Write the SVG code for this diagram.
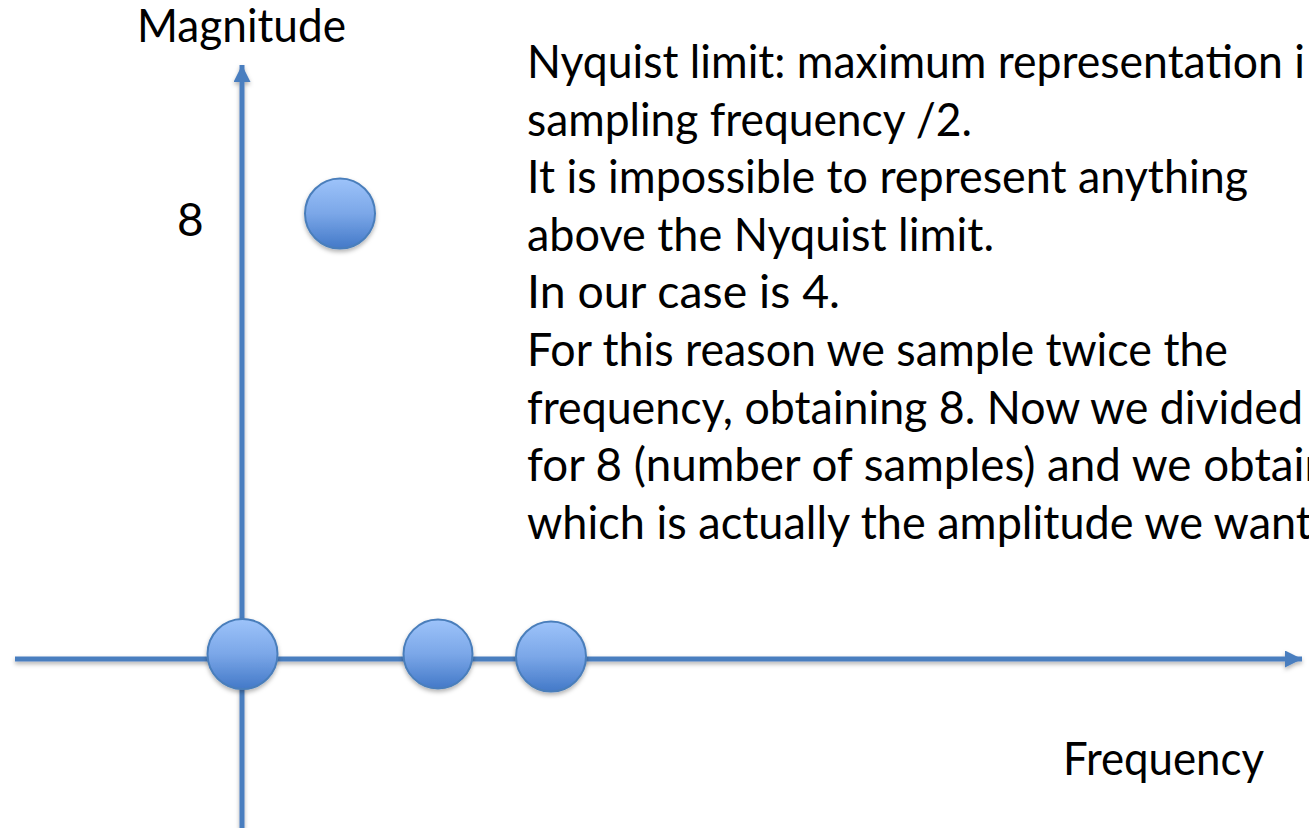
<svg xmlns="http://www.w3.org/2000/svg" width="1309" height="828" viewBox="0 0 1309 828">
  <style>
    .t { font-family: Lato, "Open Sans", "Liberation Sans", sans-serif; font-size: 46px; fill: #000; }
    .axis { stroke: #4A7EBF; stroke-width: 5; fill: none; }
    .dot { fill: url(#dotGrad); stroke: #4A7EBB; stroke-width: 2; }
  </style>
  <defs>
    <linearGradient id="dotGrad" x1="0" y1="0" x2="0" y2="1">
      <stop offset="0" stop-color="#9DC3FA"/>
      <stop offset="0.5" stop-color="#7BA7E8"/>
      <stop offset="1" stop-color="#4379C8"/>
    </linearGradient>
    <filter id="shadow" x="-20%" y="-20%" width="140%" height="150%">
      <feDropShadow dx="0" dy="2.5" stdDeviation="2" flood-color="#000" flood-opacity="0.3"/>
    </filter>
    <marker id="arrow" viewBox="0 0 10 10" refX="10" refY="5" markerWidth="3.4" markerHeight="3.4" orient="auto" markerUnits="strokeWidth">
      <path d="M0,0 L10,5 L0,10 Z" fill="#4A7EBF"/>
    </marker>
  </defs>

  <g id="connectors" filter="url(#shadow)">
    <line id="y-axis" class="axis" x1="242" y1="828" x2="242" y2="65" marker-end="url(#arrow)"/>
    <line id="x-axis" class="axis" x1="15" y1="659" x2="1302" y2="659" marker-end="url(#arrow)"/>
  </g>

  <g id="labels">
    <text id="lbl-magnitude" class="t" x="137" y="42" textLength="209" lengthAdjust="spacingAndGlyphs">Magnitude</text>
    <text id="lbl-8" class="t" x="177" y="236">8</text>
    <text id="lbl-frequency" class="t" x="1063" y="775" textLength="201" lengthAdjust="spacingAndGlyphs">Frequency</text>
  </g>

  <g id="note">
    <text class="t" x="527" y="78" textLength="778" lengthAdjust="spacingAndGlyphs">Nyquist limit: maximum representation i</text>
    <text class="t" x="527" y="135.6" textLength="445" lengthAdjust="spacingAndGlyphs">sampling frequency /2.</text>
    <text class="t" x="527" y="193.2" textLength="721" lengthAdjust="spacingAndGlyphs">It is impossible to represent anything</text>
    <text class="t" x="527" y="250.8" textLength="467" lengthAdjust="spacingAndGlyphs">above the Nyquist limit.</text>
    <text class="t" x="527" y="308.4" textLength="313" lengthAdjust="spacingAndGlyphs">In our case is 4.</text>
    <text class="t" x="527" y="366" textLength="701" lengthAdjust="spacingAndGlyphs">For this reason we sample twice the</text>
    <text class="t" x="527" y="423.6" textLength="776" lengthAdjust="spacingAndGlyphs">frequency, obtaining 8. Now we divided</text>
    <text class="t" x="527" y="481.2" textLength="803" lengthAdjust="spacingAndGlyphs">for 8 (number of samples) and we obtain</text>
    <text class="t" x="527" y="538.8" textLength="785" lengthAdjust="spacingAndGlyphs">which is actually the amplitude we want</text>
  </g>

  <g id="dot-peak" filter="url(#shadow)"><circle class="dot" cx="340" cy="213.5" r="35"/></g>
  <g id="dot-origin" filter="url(#shadow)"><circle class="dot" cx="242.5" cy="654" r="35"/></g>
  <g id="dot-2" filter="url(#shadow)"><circle class="dot" cx="438" cy="654" r="34.5"/></g>
  <g id="dot-3" filter="url(#shadow)"><circle class="dot" cx="551" cy="656.5" r="35"/></g>
</svg>
